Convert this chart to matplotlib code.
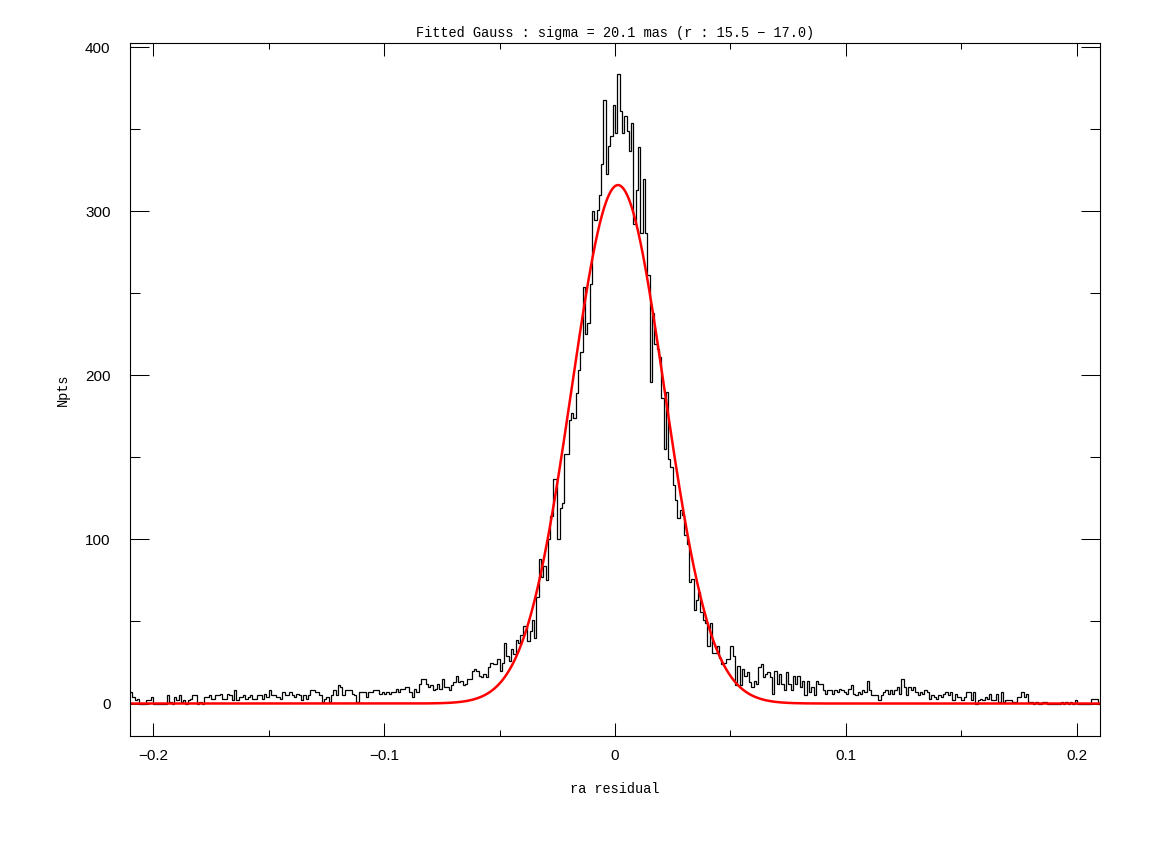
import numpy as np
import matplotlib
matplotlib.use('Agg')
import matplotlib.pyplot as plt
from matplotlib.ticker import MultipleLocator
#
#   Histogram of ra residuals with the fitted Gaussian on top.
#   Counts, bins of 0.001 from -0.21 to 0.21.
#
x_min=-0.21
x_max=0.21
bin_width=0.001

counts_left_tail=[7,4,2,3,0,0,0,2,2,4, 0,0,0,0,0,0,5,1,0,4,
                  2,5,1,2,0,2,3,5,5,0, 1,0,4,4,5,3,3,5,5,6,
                  3,3,6,5,2,8,2,4,4,5, 3,4,5,3,3,5,5,3,6,4,
                  8,5,5,4,4,3,7,5,5,7, 5,4,6,5,2,5,3]
counts_left_mid=[5,8,8,7,7,5,1,3,4,1, 5,8,5,11,10,5,8,8,8,6,
                 5,1,7,7,7,4,7,7,8,8, 8,6,7,6,7,6,7,7,9,7,
                 9,9,10,10,7,4,9,7,12,15, 15,12,10,11,8,9,12,9,15,10,
                 10,8,11,13,17,13,14,11,12,15, 15,20,21,20,17]
counts_rise=[16,18,16,22,25,24,24,27,20,25, 37,29,26,33,30,39,37,42,47,47,
             38,44,51,40,65,88,77,84,75,100, 114,137,137,100,119,122,152,152,173,177]
counts_peak=[174,189,203,214,254,225,232,256,300,295, 301,310,329,368,323,340,346,365,348,384,
             361,348,358,
             349,337,354,292,313,339,287,320,287,261, 196,238,219,216,211,186,155,190,149,144,
             133,124,113,118,115,103]
counts_fall=[97,74,76,57,63,68,56,51,49,35, 49,31,31,35,28,24,25,27,27,35,
             29,11,23,11,21,17,19,13,10,14, 12,22,24,16,18,19,16,6,20,12,
             18,12,8]
counts_right_tail=[19,12,8,17,12,17,10,14,5,14, 7,10,5,14,12,12,8,6,8,8,
                   6,8,7,9,8,7,6,9,11,6, 5,7,6,8,7,14,8,5,5,5,
                   2,5,7,8,6,8,6,8,10,6, 15,10,5,10,8,10,7,5,7,6,
                   8,7,3,5,4,3,5,4,6,7, 5,7,2,6,4,4,2,4,7,7,
                   2,7,0,2,3,2,4,3,6,2, 2,6,1,7,1,2,2,2,1,1,
                   4,4,7,4,6,1,1,0,1,0, 0,1,1,0,0,0,0,0,0,1,
                   0,1,0,1,0,2,0,0, 0,0,0,0,3,3,3,0]

counts=np.array(counts_left_tail+counts_left_mid+counts_rise+counts_peak+counts_fall+counts_right_tail)
edges=np.linspace(x_min,x_max,len(counts)+1)

# fitted gauss parameters
gauss_amp=316.0
gauss_mean=0.0013
gauss_sigma=0.0201
xg=np.linspace(x_min,x_max,1200)
yg=gauss_amp*np.exp(-0.5*((xg-gauss_mean)/gauss_sigma)**2)

W,H=1158,851
fig=plt.figure(figsize=(W/100,H/100),dpi=100)
ax=fig.add_axes([130/W,1-736/H,970/W,693/H])

ax.stairs(counts,edges,baseline=None,color='black',lw=0.9)
ax.plot(xg,yg,color='#ff0000',lw=1.8)

ax.set_xlim(x_min,x_max)
ax.set_ylim(-19.8,402.6)
ax.xaxis.set_major_locator(MultipleLocator(0.1))
ax.xaxis.set_minor_locator(MultipleLocator(0.05))
ax.yaxis.set_major_locator(MultipleLocator(100))
ax.yaxis.set_minor_locator(MultipleLocator(50))
ax.set_xticks([-0.2,-0.1,0,0.1,0.2])
ax.set_xticklabels(['\u22120.2','\u22120.1','0','0.1','0.2'])
ax.set_yticks([0,100,200,300,400])
ax.set_yticklabels(['0','100','200','300','400'])

ax.tick_params(which='both',direction='in',top=True,right=True,width=0.75,colors='black')
ax.tick_params(axis='x',which='major',length=9.4,pad=9)
ax.tick_params(axis='x',which='minor',length=4.3)
ax.tick_params(axis='y',which='major',length=13.5,pad=14)
ax.tick_params(axis='y',which='minor',length=7.2)
for lab in ax.get_xticklabels()+ax.get_yticklabels():
    lab.set_fontfamily('Liberation Sans')
    lab.set_fontsize(11)
for s in ax.spines.values():
    s.set_linewidth(0.8)

ax.set_title('Fitted Gauss : sigma = 20.1 mas (r : 15.5 \u2212 17.0)',
             fontfamily='Liberation Mono',fontsize=9.8,pad=4)
ax.set_xlabel('ra residual',fontfamily='Liberation Mono',fontsize=9.8,labelpad=14)
ax.set_ylabel('Npts',fontfamily='Liberation Mono',fontsize=9.8,labelpad=11)

fig.savefig('out.png',dpi=100)
